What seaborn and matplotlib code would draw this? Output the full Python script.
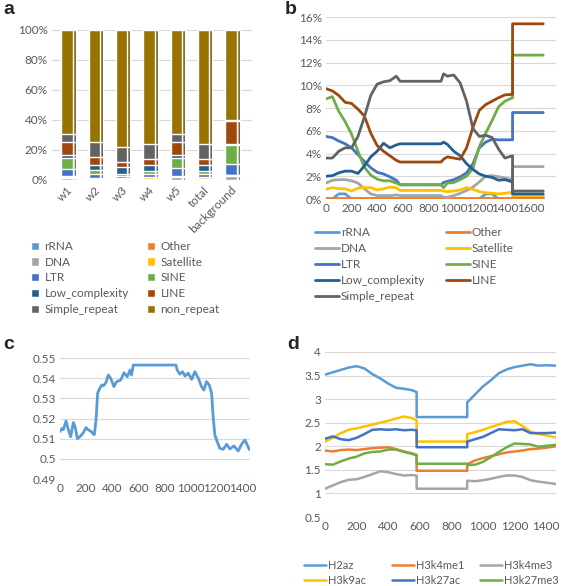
import numpy as np
import pandas as pd
import seaborn as sns
import matplotlib.pyplot as plt
from matplotlib.patches import Patch
from matplotlib.ticker import PercentFormatter, MultipleLocator
from matplotlib.colors import to_rgb

# ---------------- data ----------------
repeat_types = ['rRNA', 'Other', 'DNA', 'Satellite', 'LTR', 'SINE',
                'Low_complexity', 'LINE', 'Simple_repeat']
windows = ['w1', 'w2', 'w3', 'w4', 'w5', 'total', 'background']

# panel a: % of sequence per class (non_repeat = remainder)
bar_rRNA = [0.2, 0.0, 0.0, 0.1, 0.2, 0.1, 0.0]
bar_Other = [0.1, 0.1, 0.1, 0.1, 0.1, 0.1, 0.2]
bar_DNA = [1.6, 0.5, 0.3, 0.8, 1.8, 0.7, 2.85]
bar_Satellite = [0.9, 0.9, 0.75, 0.8, 0.7, 0.8, 0.35]
bar_LTR = [4.8, 2.6, 1.3, 2.2, 4.9, 2.2, 7.6]
bar_SINE = [7.0, 2.3, 1.25, 1.8, 6.8, 2.2, 12.65]
bar_Low_complexity = [2.3, 3.9, 4.85, 4.0, 2.0, 3.8, 0.45]
bar_LINE = [8.6, 5.1, 3.25, 4.4, 8.6, 4.4, 15.4]
bar_Simple_repeat = [5.4, 10.0, 10.35, 9.8, 5.5, 9.6, 0.7]

# panel b: % along position
xb = [0, 50, 100, 150, 200, 250, 300, 350, 400, 450, 500, 550, 580, 900, 920,
      950, 1000, 1050, 1100, 1150, 1200, 1250, 1300, 1350, 1400, 1460, 1460, 1700]
b_rRNA = [0, 0, 0.45, 0.45, 0, 0, 0, 0, 0, 0, 0, 0, 0, 0, 0,
          0, 0, 0, 0, 0, 0, 0.45, 0.45, 0, 0, 0, 0, 0]
b_Other = [0.1] * 26 + [0.15, 0.15]
b_DNA = [1.4, 1.65, 1.7, 1.7, 1.6, 1.4, 0.9, 0.45, 0.3, 0.3, 0.3, 0.35, 0.3, 0.3, 0.15,
         0.15, 0.3, 0.5, 0.75, 1.05, 1.5, 2.0, 2.05, 1.95, 1.85, 1.7, 2.85, 2.85]
b_Satellite = [0.85, 1.0, 0.9, 0.9, 0.7, 0.95, 1.0, 1.0, 0.8, 0.9, 1.05, 1.0, 0.75, 0.75, 0.7,
               0.65, 0.7, 0.8, 1.0, 0.85, 0.65, 0.55, 0.5, 0.45, 0.5, 0.6, 0.3, 0.3]
b_LTR = [5.5, 5.4, 5.1, 4.85, 4.5, 3.9, 3.3, 2.75, 2.35, 2.2, 1.95, 1.65, 1.25, 1.25, 1.45,
         1.55, 1.7, 1.95, 2.3, 3.1, 4.5, 5.0, 5.25, 5.2, 5.2, 5.2, 7.6, 7.6]
b_SINE = [8.8, 9.0, 7.7, 6.8, 5.7, 4.2, 2.8, 2.1, 1.75, 1.6, 1.6, 1.4, 1.25, 1.25, 1.0,
          1.4, 1.45, 1.7, 2.0, 2.7, 4.6, 5.8, 6.9, 8.1, 8.6, 8.9, 12.65, 12.65]
b_Low_complexity = [2.0, 2.05, 2.3, 2.45, 2.45, 2.25, 2.9, 3.7, 4.2, 4.9, 4.5, 4.75, 4.85, 4.85, 5.0,
                    4.8, 4.2, 3.8, 3.1, 2.6, 2.2, 2.0, 1.9, 1.65, 1.7, 1.5, 0.45, 0.45]
b_LINE = [9.7, 9.5, 9.1, 8.5, 8.4, 7.9, 7.3, 5.8, 4.7, 4.2, 3.8, 3.4, 3.25, 3.25, 3.5,
          3.7, 3.6, 3.5, 4.5, 6.3, 7.8, 8.3, 8.6, 8.9, 9.15, 9.2, 15.4, 15.4]
b_Simple_repeat = [3.6, 3.6, 4.2, 4.5, 4.5, 5.5, 7.2, 9.1, 10.1, 10.3, 10.4, 10.8, 10.35, 10.35, 11.0,
                   10.8, 10.9, 10.2, 8.6, 6.2, 5.5, 5.6, 5.4, 4.4, 3.6, 3.8, 0.7, 0.7]

# panel c
xc = [0, 13, 26, 46, 64, 82, 102, 115, 133, 153, 179, 199, 217, 235, 255, 263, 276, 288,
      301, 319, 332, 352, 370, 388, 413, 434, 464, 490, 515, 536, 548, 561, 888, 898, 918,
      939, 957, 982, 1008, 1033, 1059, 1084, 1102, 1122, 1143, 1161, 1173, 1186, 1204,
      1224, 1250, 1276, 1301, 1332, 1365, 1390, 1416, 1434, 1449, 1460]
c_val = [0.5135, 0.515, 0.5145, 0.5188, 0.5145, 0.511, 0.518, 0.516, 0.510, 0.511, 0.513,
         0.5155, 0.5143, 0.5138, 0.5123, 0.512, 0.5193, 0.5325, 0.5345, 0.5366, 0.5362,
         0.5378, 0.5416, 0.540, 0.5358, 0.5383, 0.539, 0.5427, 0.5407, 0.544, 0.5416,
         0.5465, 0.5465, 0.544, 0.542, 0.5432, 0.541, 0.5425, 0.5394, 0.5432, 0.540,
         0.5358, 0.5341, 0.5383, 0.5366, 0.5325, 0.5209, 0.5118, 0.5085, 0.5052, 0.5047,
         0.5072, 0.5049, 0.5064, 0.5039, 0.5072, 0.5093, 0.5069, 0.5047, 0.505]

# panel d
marks = ['H2az', 'H3k4me1', 'H3k4me3', 'H3k9ac', 'H3k27ac', 'H3k27me3']
xd = [0, 50, 100, 150, 200, 250, 300, 350, 400, 450, 500, 550, 580, 580, 900, 900,
      950, 1000, 1050, 1100, 1150, 1200, 1250, 1300, 1350, 1400, 1460]
d_H2az = [3.52, 3.57, 3.62, 3.67, 3.70, 3.65, 3.53, 3.44, 3.33, 3.24, 3.22, 3.19, 3.15, 2.62,
          2.62, 2.93, 3.1, 3.27, 3.4, 3.55, 3.63, 3.68, 3.71, 3.74, 3.71, 3.72, 3.71]
d_H3k4me1 = [1.91, 1.89, 1.92, 1.93, 1.92, 1.94, 1.96, 1.97, 1.98, 1.94, 1.89, 1.85, 1.82, 1.48,
             1.48, 1.62, 1.7, 1.75, 1.79, 1.83, 1.87, 1.89, 1.91, 1.94, 1.95, 1.97, 2.0]
d_H3k4me3 = [1.1, 1.17, 1.24, 1.29, 1.3, 1.35, 1.41, 1.47, 1.45, 1.41, 1.38, 1.39, 1.38, 1.1,
             1.1, 1.27, 1.26, 1.28, 1.31, 1.35, 1.38, 1.38, 1.35, 1.28, 1.25, 1.23, 1.2]
d_H3k9ac = [2.1, 2.18, 2.28, 2.35, 2.38, 2.42, 2.46, 2.5, 2.54, 2.59, 2.63, 2.6, 2.55, 2.1,
            2.1, 2.26, 2.3, 2.35, 2.41, 2.46, 2.52, 2.53, 2.43, 2.31, 2.26, 2.23, 2.19]
d_H3k27ac = [2.16, 2.21, 2.15, 2.13, 2.18, 2.26, 2.35, 2.36, 2.35, 2.36, 2.34, 2.35, 2.34, 1.98,
             1.98, 2.1, 2.15, 2.2, 2.28, 2.36, 2.35, 2.34, 2.36, 2.28, 2.28, 2.28, 2.29]
d_H3k27me3 = [1.62, 1.61, 1.68, 1.74, 1.78, 1.85, 1.88, 1.89, 1.93, 1.93, 1.88, 1.84, 1.8, 1.63,
              1.63, 1.6, 1.61, 1.67, 1.77, 1.88, 1.98, 2.06, 2.05, 2.04, 1.99, 2.01, 2.03]

# ---------------- style ----------------
sns.set_style("white")
plt.rcParams['font.family'] = ['Lato', 'DejaVu Sans']
TXT = '#595959'
GRID = '#D9D9D9'
colors = {'rRNA': '#5B9BD5', 'Other': '#ED7D31', 'DNA': '#A5A5A5', 'Satellite': '#FFC000',
          'LTR': '#4472C4', 'SINE': '#70AD47', 'Low_complexity': '#255E91', 'LINE': '#9E480E',
          'Simple_repeat': '#636363', 'non_repeat': '#997300'}
mark_colors = dict(zip(marks, ['#5B9BD5', '#ED7D31', '#A5A5A5', '#FFC000', '#4472C4', '#70AD47']))

W, H = 567, 586
fig = plt.figure(figsize=(W / 100, H / 100), dpi=100)


def px_axes(x0, y0, x1, y1):
    return fig.add_axes([x0 / W, 1 - y1 / H, (x1 - x0) / W, (y1 - y0) / H])


def style_ax(ax):
    for s in ax.spines.values():
        s.set_visible(False)
    ax.grid(axis='y', color=GRID, lw=0.8)
    ax.set_axisbelow(True)
    ax.tick_params(colors=TXT, labelsize=8.5, length=0, pad=3)
    ax.set_xlabel('')
    ax.set_ylabel('')


def column_legends(handles, labels, columns, x_px, top_px, size=8.5, **kw):
    # one legend per column so columns sit at fixed x positions like Excel
    for names, x in zip(columns, x_px):
        fig.legend([handles[labels.index(n)] for n in names], names, loc='upper left',
                   bbox_to_anchor=(x / W, 1 - top_px / H), frameon=False, fontsize=size,
                   labelcolor=TXT, borderpad=0, borderaxespad=0, **kw)


# ---------------- panel a ----------------
axa = px_axes(52, 30, 252, 180)
bars = pd.DataFrame({'rRNA': bar_rRNA, 'Other': bar_Other, 'DNA': bar_DNA,
                     'Satellite': bar_Satellite, 'LTR': bar_LTR, 'SINE': bar_SINE,
                     'Low_complexity': bar_Low_complexity, 'LINE': bar_LINE,
                     'Simple_repeat': bar_Simple_repeat}, index=windows)
bars['non_repeat'] = 100 - bars.sum(axis=1)
stack_order = ['DNA', 'rRNA', 'Other', 'Satellite', 'LTR', 'SINE', 'Low_complexity',
               'LINE', 'Simple_repeat', 'non_repeat']
cum = bars[stack_order].cumsum(axis=1) / 100
bw, depth = 0.42, 0.11
pos = np.arange(len(windows))
for cat in stack_order[::-1]:
    dark = tuple(c * 0.65 for c in to_rgb(colors[cat]))
    # side face of the pseudo-3D column
    axa.bar(pos + bw / 2 + depth / 2, cum[cat].values, width=depth, color=dark, zorder=2)
    sns.barplot(x=windows, y=cum[cat].values, color=colors[cat], saturation=1,
                width=bw, ax=axa, zorder=3)
axa.set_xlim(-0.55, 6.77)
axa.set_ylim(0, 1.0)
axa.yaxis.set_major_locator(MultipleLocator(0.2))
axa.yaxis.set_major_formatter(PercentFormatter(xmax=1, decimals=0))
style_ax(axa)
plt.setp(axa.get_xticklabels(), rotation=45, ha='right', rotation_mode='anchor')

order_a = ['rRNA', 'Other', 'DNA', 'Satellite', 'LTR', 'SINE', 'Low_complexity', 'LINE',
           'Simple_repeat', 'non_repeat']
handles_a = [Patch(facecolor=colors[c], label=c) for c in order_a]
column_legends(handles_a, order_a, [order_a[0::2], order_a[1::2]], [31, 147], 241,
               handlelength=0.7, handleheight=0.7, handletextpad=0.45, labelspacing=0.4)

# ---------------- panel b ----------------
axb = px_axes(326, 17, 556, 199)
b_series = {'rRNA': b_rRNA, 'Other': b_Other, 'DNA': b_DNA, 'Satellite': b_Satellite,
            'LTR': b_LTR, 'SINE': b_SINE, 'Low_complexity': b_Low_complexity,
            'LINE': b_LINE, 'Simple_repeat': b_Simple_repeat}
for name in repeat_types:
    sns.lineplot(x=xb, y=b_series[name], sort=False, estimator=None, color=colors[name],
                 lw=2, label=name, ax=axb, legend=False)
axb.set_xlim(0, 1800)
axb.set_ylim(0, 16)
axb.set_xticks(range(0, 1601, 200))
axb.yaxis.set_major_locator(MultipleLocator(2))
axb.yaxis.set_major_formatter(PercentFormatter(xmax=100, decimals=0))
style_ax(axb)
hb, lb = axb.get_legend_handles_labels()
column_legends(hb, lb, [repeat_types[0::2], repeat_types[1::2]], [315, 446], 227,
               handlelength=2.0, handletextpad=0.2, labelspacing=0.42)

# ---------------- panel c ----------------
axc = px_axes(60, 358, 250, 479)
sns.lineplot(x=xc, y=c_val, sort=False, estimator=None, color='#5B9BD5', lw=2, ax=axc)
axc.set_xlim(0, 1455)
axc.set_ylim(0.49, 0.55)
axc.set_xticks(range(0, 1401, 200))
cticks = np.round(np.arange(0.49, 0.5501, 0.01), 2)
axc.set_yticks(cticks)
axc.set_yticklabels([f'{v:g}' for v in cticks])
style_ax(axc)

# ---------------- panel d ----------------
axd = px_axes(325, 352, 556, 517)
d_series = {'H2az': d_H2az, 'H3k4me1': d_H3k4me1, 'H3k4me3': d_H3k4me3,
            'H3k9ac': d_H3k9ac, 'H3k27ac': d_H3k27ac, 'H3k27me3': d_H3k27me3}
for name in marks:
    sns.lineplot(x=xd, y=d_series[name], sort=False, estimator=None, color=mark_colors[name],
                 lw=1.8, label=name, ax=axd, legend=False)
axd.set_xlim(0, 1462)
axd.set_ylim(0.5, 4)
axd.set_xticks(range(0, 1401, 200))
dticks = np.arange(0.5, 4.01, 0.5)
axd.set_yticks(dticks)
axd.set_yticklabels([f'{v:g}' for v in dticks])
style_ax(axd)
hd, ld = axd.get_legend_handles_labels()
column_legends(hd, ld, [['H2az', 'H3k9ac'], ['H3k4me1', 'H3k27ac'], ['H3k4me3', 'H3k27me3']],
               [304, 392, 480], 560, size=8, handlelength=2.0, handletextpad=0.15,
               labelspacing=0.32)

# ---------------- panel letters ----------------
for letter, (x, y) in zip('abcd', [(3, 1), (285, 1), (3, 336), (287, 336)]):
    fig.text(x / W, 1 - y / H, letter, fontsize=14, fontweight='bold', va='top', ha='left',
             family=['Liberation Sans', 'DejaVu Sans'])

fig.savefig('out.png', dpi=100)
